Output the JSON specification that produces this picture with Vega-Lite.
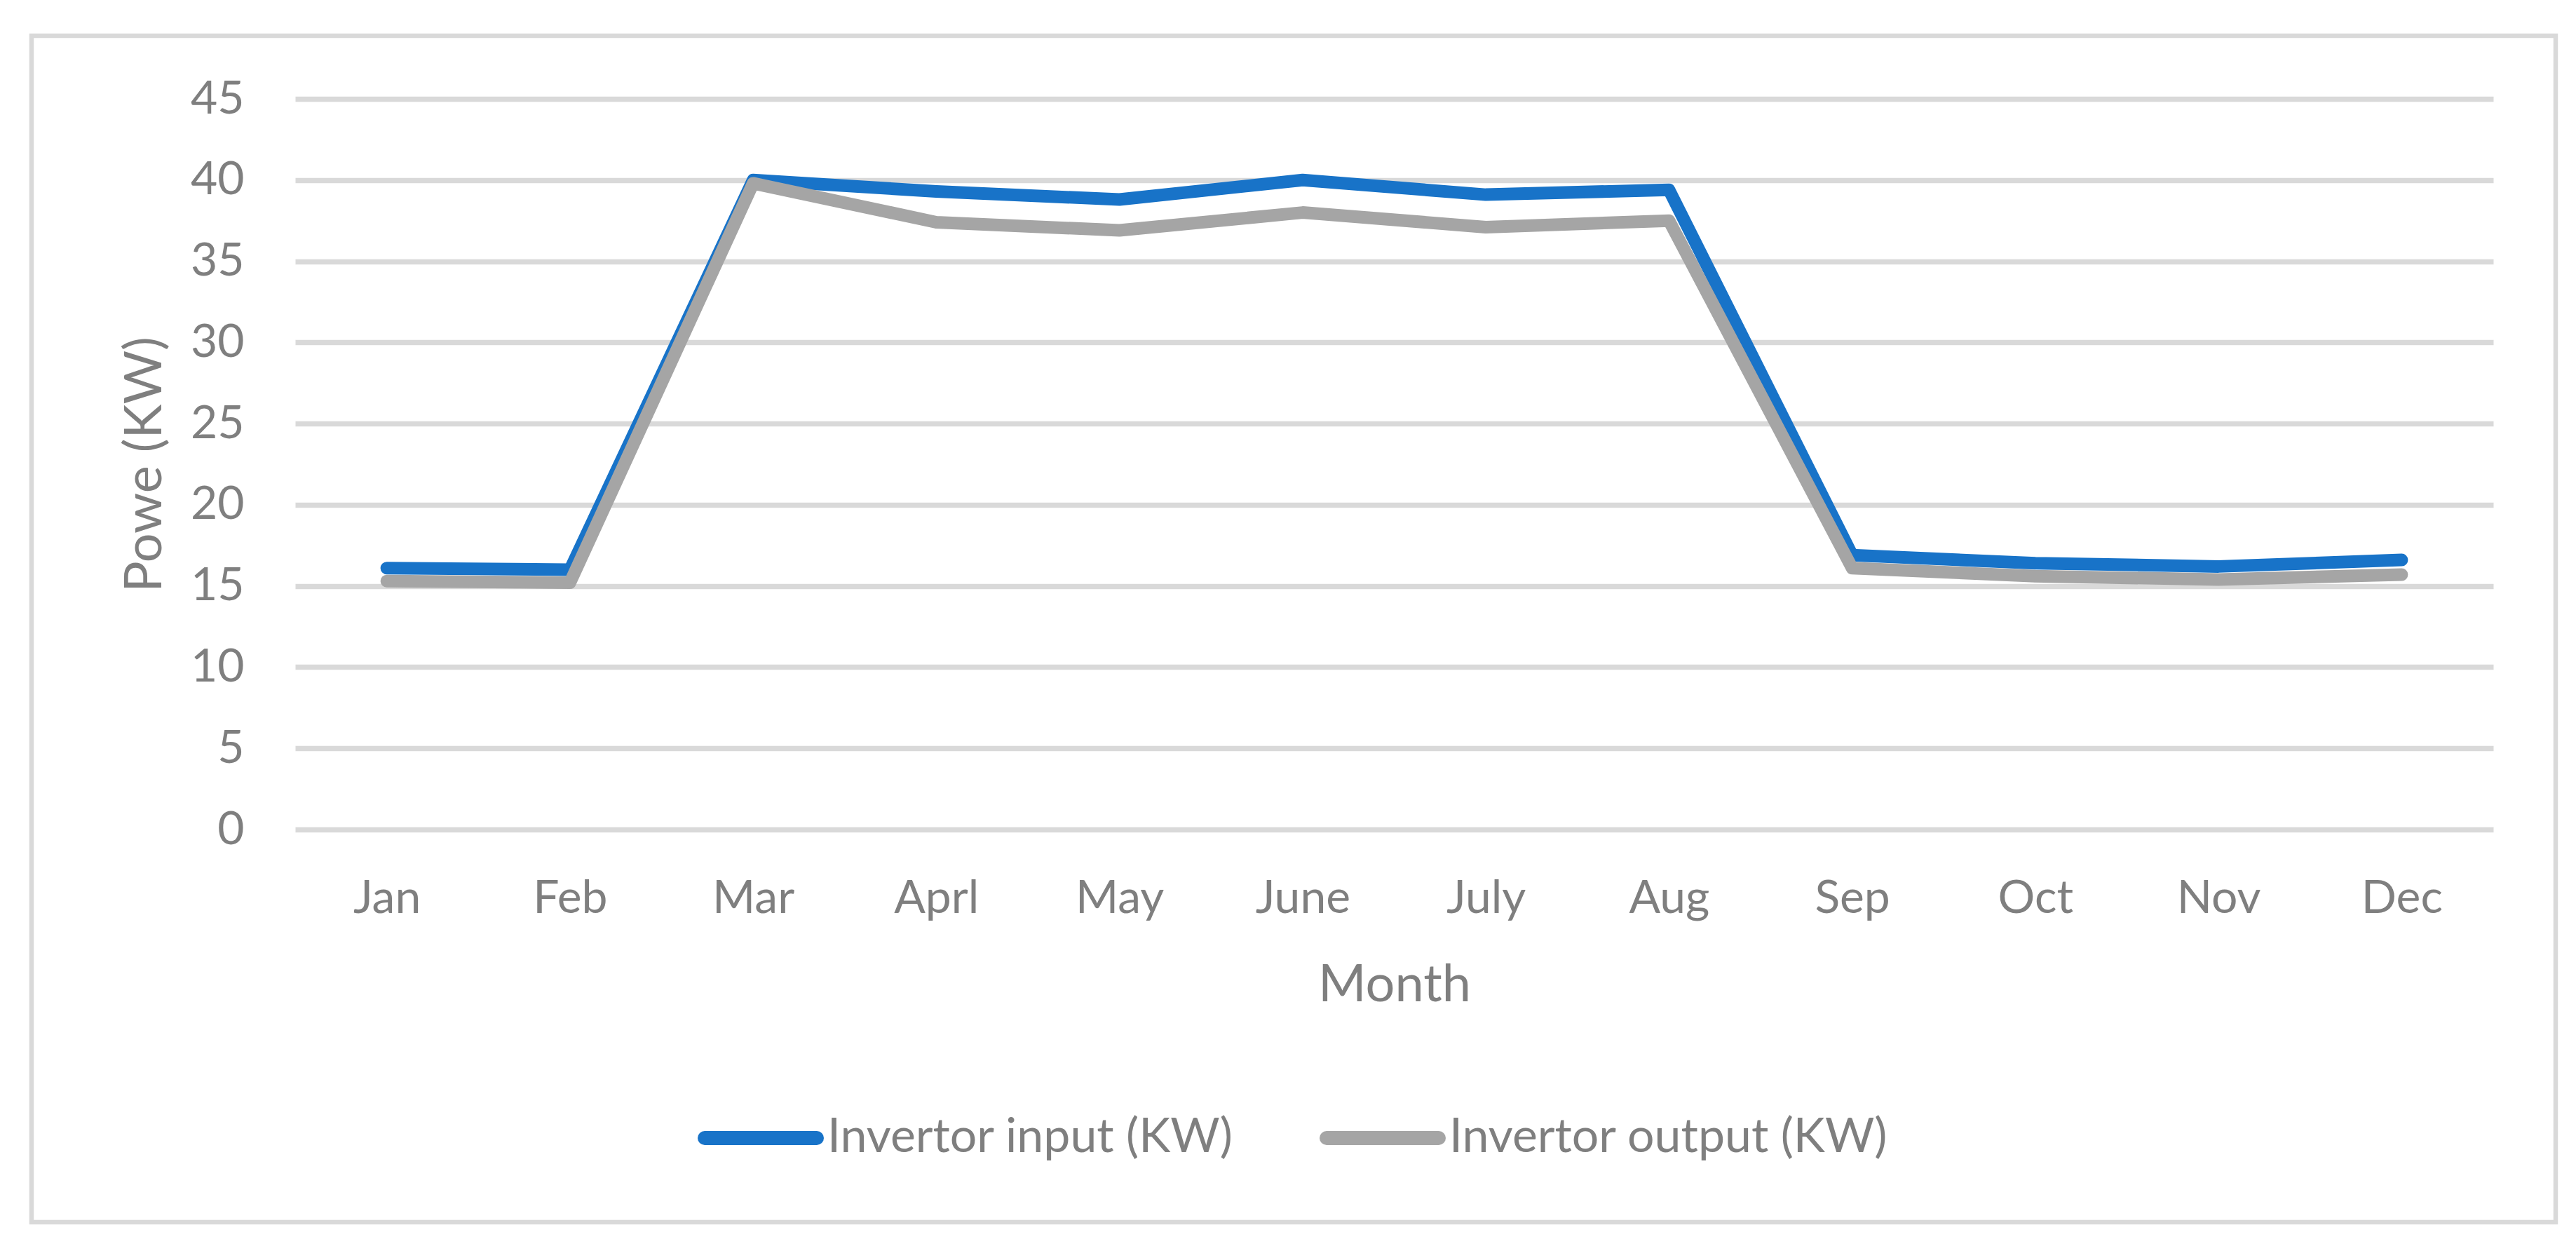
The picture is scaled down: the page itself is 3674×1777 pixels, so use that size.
{
  "$schema": "https://vega.github.io/schema/vega-lite/v6.json",
  "width": 3600,
  "height": 1692,
  "autosize": {"type": "none"},
  "padding": {"left": 45, "top": 51, "right": 29, "bottom": 34},
  "background": "white",
  "config": {"view": {"stroke": "#D9D9D9", "strokeWidth": 6.5}, "font": "Lato"},
  "data": {
    "values": [
      {"month": "Jan", "series": "Invertor input (KW)", "value": 16.1},
      {"month": "Feb", "series": "Invertor input (KW)", "value": 16.0},
      {"month": "Mar", "series": "Invertor input (KW)", "value": 40.0},
      {"month": "Aprl", "series": "Invertor input (KW)", "value": 39.3},
      {"month": "May", "series": "Invertor input (KW)", "value": 38.8},
      {"month": "June", "series": "Invertor input (KW)", "value": 40.0},
      {"month": "July", "series": "Invertor input (KW)", "value": 39.1},
      {"month": "Aug", "series": "Invertor input (KW)", "value": 39.4},
      {"month": "Sep", "series": "Invertor input (KW)", "value": 16.9},
      {"month": "Oct", "series": "Invertor input (KW)", "value": 16.4},
      {"month": "Nov", "series": "Invertor input (KW)", "value": 16.2},
      {"month": "Dec", "series": "Invertor input (KW)", "value": 16.6},
      {"month": "Jan", "series": "Invertor output (KW)", "value": 15.3},
      {"month": "Feb", "series": "Invertor output (KW)", "value": 15.2},
      {"month": "Mar", "series": "Invertor output (KW)", "value": 39.8},
      {"month": "Aprl", "series": "Invertor output (KW)", "value": 37.4},
      {"month": "May", "series": "Invertor output (KW)", "value": 36.9},
      {"month": "June", "series": "Invertor output (KW)", "value": 38.0},
      {"month": "July", "series": "Invertor output (KW)", "value": 37.1},
      {"month": "Aug", "series": "Invertor output (KW)", "value": 37.5},
      {"month": "Sep", "series": "Invertor output (KW)", "value": 16.1},
      {"month": "Oct", "series": "Invertor output (KW)", "value": 15.6},
      {"month": "Nov", "series": "Invertor output (KW)", "value": 15.4},
      {"month": "Dec", "series": "Invertor output (KW)", "value": 15.7}
    ]
  },
  "mark": {"type": "line", "strokeWidth": 18, "strokeCap": "round", "strokeJoin": "round"},
  "encoding": {
    "x": {
      "field": "month",
      "type": "ordinal",
      "sort": ["Jan", "Feb", "Mar", "Aprl", "May", "June", "July", "Aug", "Sep", "Oct", "Nov", "Dec"],
      "scale": {"type": "point", "range": [376, 3511], "padding": 0.5},
      "axis": {
        "title": "Month",
        "orient": "bottom",
        "offset": -560,
        "domain": false,
        "ticks": false,
        "grid": false,
        "labelAngle": 0,
        "labelFont": "Lato",
        "labelFontSize": 66,
        "labelColor": "#7F7F7F",
        "labelPadding": 66,
        "titleFont": "Lato",
        "titleFontSize": 74,
        "titleFontWeight": "normal",
        "titleColor": "#7F7F7F",
        "titleBaseline": "alphabetic",
        "titleAlign": "center",
        "titleX": 1943.5,
        "titleY": 244
      }
    },
    "y": {
      "field": "value",
      "type": "quantitative",
      "scale": {"domain": [0, 45], "range": [1132, 90], "nice": false, "zero": true},
      "axis": {
        "title": "Powe (KW)",
        "values": [0, 5, 10, 15, 20, 25, 30, 35, 40, 45],
        "offset": -376,
        "domain": false,
        "ticks": false,
        "grid": true,
        "gridColor": "#D9D9D9",
        "gridWidth": 7.5,
        "labelFont": "Lato",
        "labelFontSize": 66,
        "labelColor": "#7F7F7F",
        "labelPadding": 73,
        "titleFont": "Lato",
        "titleFontSize": 74,
        "titleFontWeight": "normal",
        "titleColor": "#7F7F7F",
        "titleAngle": -90,
        "titleBaseline": "alphabetic",
        "titleAlign": "center",
        "titleX": -192,
        "titleY": 611
      }
    },
    "color": {
      "field": "series",
      "type": "nominal",
      "scale": {"domain": ["Invertor input (KW)", "Invertor output (KW)"], "range": ["#1873C8", "#A5A5A5"]},
      "legend": {
        "title": null,
        "orient": "none",
        "legendX": 950,
        "legendY": 1482,
        "direction": "horizontal",
        "symbolType": "stroke",
        "symbolSize": 25600,
        "symbolStrokeWidth": 20,
        "labelFont": "Lato",
        "labelFontSize": 68,
        "labelColor": "#7F7F7F",
        "labelOffset": 5,
        "columnPadding": 92,
        "padding": 0,
        "labelLimit": 2000,
        "encode": {"symbols": {"update": {"strokeCap": {"value": "round"}}}}
      }
    }
  }
}
